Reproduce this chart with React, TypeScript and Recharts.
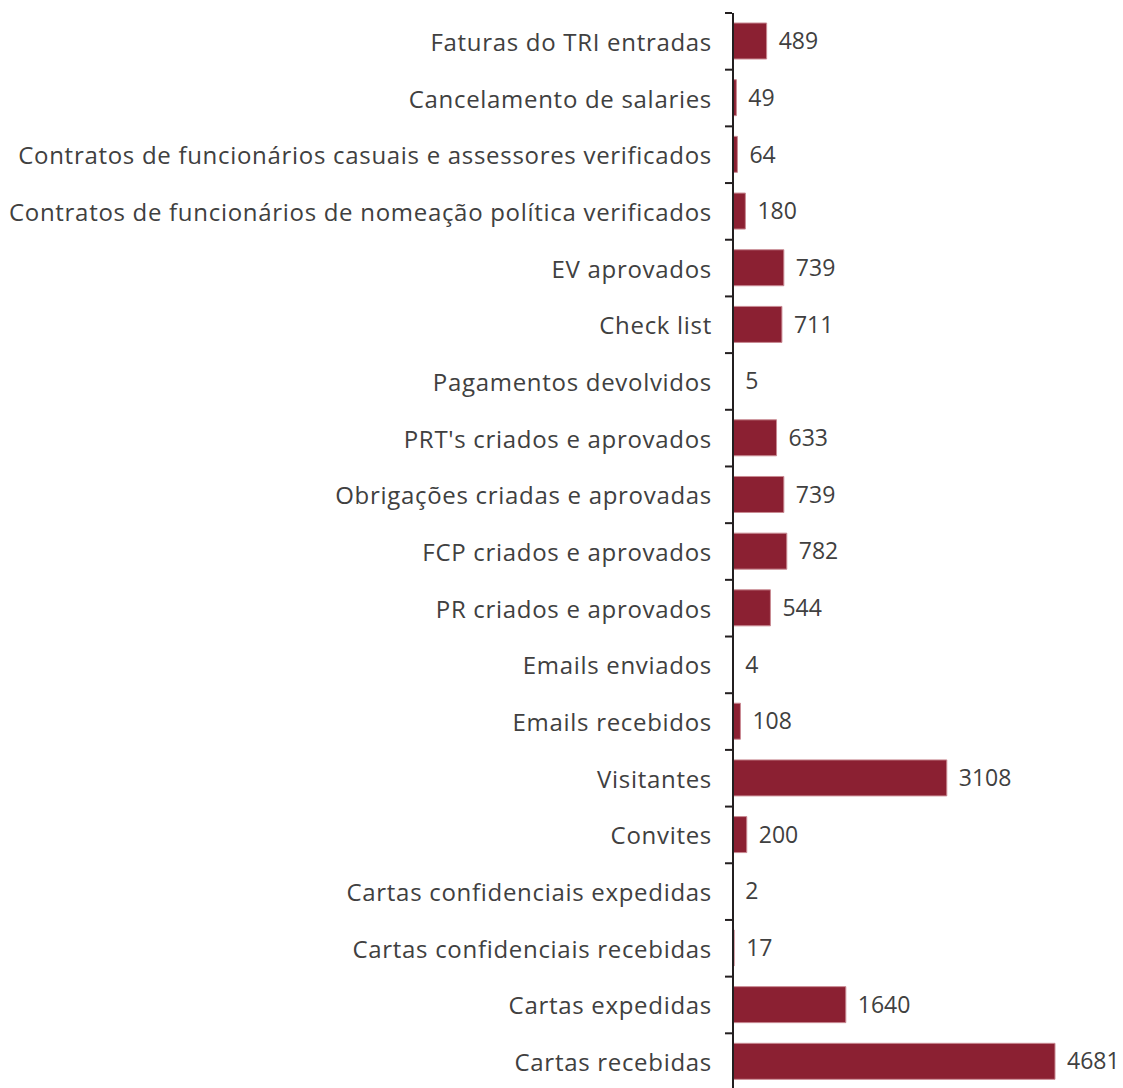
import React from "react";
import { BarChart, Bar, XAxis, YAxis, LabelList } from "recharts";

const categories = [
  "Faturas do TRI entradas",
  "Cancelamento de salaries",
  "Contratos de funcionários casuais e assessores verificados",
  "Contratos de funcionários de nomeação política verificados",
  "EV aprovados",
  "Check list",
  "Pagamentos devolvidos",
  "PRT's criados e aprovados",
  "Obrigações criadas e aprovadas",
  "FCP criados e aprovados",
  "PR criados e aprovados",
  "Emails enviados",
  "Emails recebidos",
  "Visitantes",
  "Convites",
  "Cartas confidenciais expedidas",
  "Cartas confidenciais recebidas",
  "Cartas expedidas",
  "Cartas recebidas",
];
const values = [489, 49, 64, 180, 739, 711, 5, 633, 739, 782, 544, 4, 108, 3108, 200, 2, 17, 1640, 4681];

const data = categories.map((name, i) => ({ name, value: values[i] }));

const W = 1123;
const H = 1090;
const M = { top: 13, right: 68, bottom: 0, left: 0 };
const band = (H - M.top - M.bottom) / categories.length;
const FONT = "'Open Sans', sans-serif";

const Tick = (props: any) => {
  const { x, y, payload, index } = props;
  return (
    <g>
      <line x1={x} x2={x + 7} y1={y - band / 2} y2={y - band / 2} stroke="#231f20" strokeWidth={2} />
      {index === categories.length - 1 && (
        <line x1={x} x2={x + 7} y1={y + band / 2} y2={y + band / 2} stroke="#231f20" strokeWidth={2} />
      )}
      <text
        x={x - 13}
        y={y}
        textAnchor="end"
        dominantBaseline="central"
        fill="#404040"
        fontSize={24}
        letterSpacing={0.7}
        fontFamily={FONT}
      >
        {payload.value}
      </text>
    </g>
  );
};

export default function App() {
  return (
    <div style={{ position: "absolute", left: 0, top: 0, background: "#fff" }}>
      <BarChart width={W} height={H} data={data} layout="vertical" margin={M}>
        <XAxis type="number" domain={[0, 4681]} hide />
        <YAxis
          type="category"
          dataKey="name"
          width={733}
          axisLine={{ stroke: "#231f20", strokeWidth: 2 }}
          tickLine={false}
          tick={<Tick />}
          interval={0}
        />
        <Bar dataKey="value" fill="#8b2032" stroke="#c98a93" strokeWidth={1} barSize={36} isAnimationActive={false}>
          <LabelList dataKey="value" position="right" offset={12} fill="#404040" fontSize={23} fontFamily={FONT} />
        </Bar>
      </BarChart>
    </div>
  );
}
